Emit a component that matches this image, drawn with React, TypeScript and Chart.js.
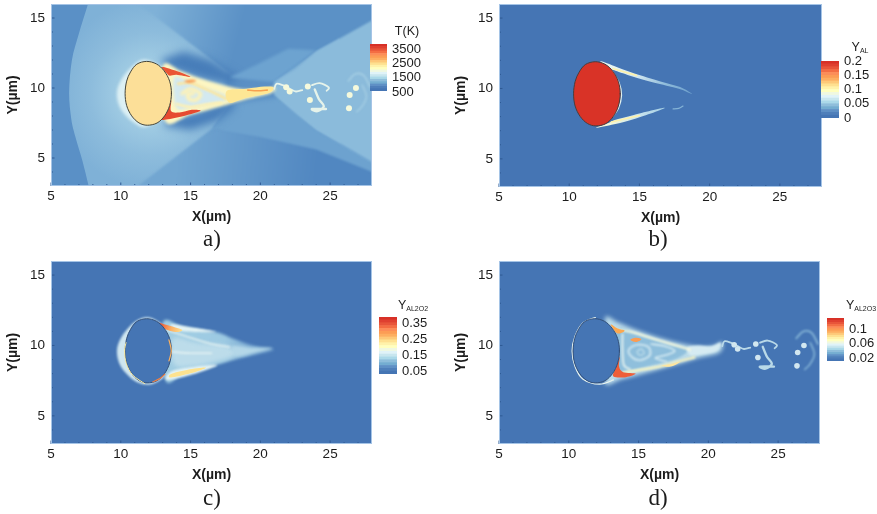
import React, { useEffect, useRef } from "react";
import { Chart, registerables } from "chart.js";

Chart.register(...registerables);

type Pt = [number, number];

// ---------- axis and legend labels ----------
const xMajorTicks = [5, 10, 15, 20, 25];
const yMajorTicks = [5, 10, 15];
const xMinorTicks = [6, 7, 8, 9, 11, 12, 13, 14, 16, 17, 18, 19, 21, 22, 23, 24, 26, 27];
const yMinorTicks = [4, 6, 7, 8, 9, 11, 12, 13, 14];
const tempTicks = [500, 1500, 2500, 3500];
const alTicks = [0, 0.05, 0.1, 0.15, 0.2];
const al2o2Ticks = [0.05, 0.15, 0.25, 0.35];
const al2o3Ticks = [0.02, 0.06, 0.1];
const colorbarLevels = [
  "#4575b4", "#4f7fba", "#5f90c5", "#74add1", "#8fbedb", "#abd9e9", "#c8e6ef", "#e0f3f8", "#f0f8e0", "#ffffbf",
  "#fff2aa", "#fee090", "#fdc878", "#fdae61", "#fc9c55", "#fc8d59", "#f46d43", "#e8553a", "#df4030", "#d73027",
];

// ---------- shared outlines ----------
const particle: Pt[] = [
  [13.63, 9.62], [13.5, 10.49], [13.1, 11.23], [12.55, 11.72], [11.85, 11.9], [11.15, 11.7], [10.7, 11.15], [10.42, 10.49],
  [10.31, 9.62], [10.42, 8.75], [10.78, 8.01], [11.3, 7.51], [11.9, 7.34], [12.6, 7.5], [13.14, 8.01], [13.5, 8.75],
];
const plotBox: Pt[] = [[4.5, 2.5], [28.5, 2.5], [28.5, 16.5], [4.5, 16.5]];
const vortexBlobs: Pt[] = [[23.55, 9.15], [26.4, 9.5], [26.85, 10.0], [26.35, 8.55], [23.4, 10.1], [21.85, 10.05], [22.1, 9.75]];
const vortexChain: Pt[] = [[21.0, 9.95], [21.15, 10.3], [21.6, 10.2], [22.1, 9.95], [22.55, 9.75], [23.0, 9.85]];
const vortexCurlA: Pt[] = [[23.7, 10.2], [24.25, 10.35], [24.9, 10.05], [24.75, 9.8]];
const vortexCurlB: Pt[] = [[23.9, 9.9], [24.2, 9.2], [24.55, 8.7], [24.1, 8.35], [23.7, 8.5], [24.7, 8.5]];
const vortexArcA: Pt[] = [[26.3, 10.5], [26.8, 11.0], [27.4, 10.9], [27.85, 10.1]];
const vortexArcB: Pt[] = [[27.3, 10.2], [27.6, 9.4], [27.3, 8.7], [26.9, 8.3]];

// ---------- panel a: temperature ----------
const tBowShock: Pt[] = [[8.2, 18], [7.65, 16], [7.0, 13.9], [6.5, 12], [6.3, 9.7], [6.45, 7.8], [6.75, 6.5], [7.25, 4.8], [7.7, 3], [8.2, 1], [24, 1], [24, 18]];
const tUpperFan: Pt[] = [[10.9, 16.3], [28.5, 16.3], [28.5, 15], [24, 12.6], [21, 10.5], [18, 10.9]];
const tNeckFill: Pt[] = [[17.5, 11.1], [21.2, 10.7], [21.2, 9.3], [17.5, 8.8]];
const tUpperShadow: Pt[] = [[12.8, 12], [14.5, 12.6], [16.5, 12], [18.3, 10.9], [18, 10.2], [15.5, 10.7], [13.5, 11.4]];
const tLowerFan: Pt[] = [[10.85, 2.7], [28.5, 2.7], [28.5, 4.5], [24, 7], [21, 9.5], [18, 9], [16.55, 7.1]];
const tLowerBand: Pt[] = [[16.55, 7.1], [20, 6.5], [24, 5.6], [28.5, 3.8], [28.5, 4.5], [24, 7], [21, 9.5], [18, 9]];
const tLowerShadow: Pt[] = [[13, 7.3], [15, 7], [17, 7.7], [18.2, 8.6], [18, 9.2], [15.5, 8.3], [13.5, 7.8]];
const tWakeFan: Pt[] = [[21, 10.45], [22.5, 11.3], [24, 12.6], [28.5, 15.1], [28.5, 4.4], [24, 7], [22.5, 8.2], [21, 9.5], [20.9, 10]];
const tNeckBand: Pt[] = [[17.8, 10.75], [19.8, 11.7], [22, 12.8], [24, 12.7], [21, 10.45]];
const tHalo: Pt[] = [[11.8, 12.02], [10.9, 11.6], [10.05, 10.6], [9.72, 9.6], [10, 8.5], [10.9, 7.55], [11.8, 7.22], [13, 8], [13.3, 9.6], [13, 11.3]];
const tWakeCone: Pt[] = [[13, 11.55], [14.3, 11.2], [15.5, 10.75], [17, 10.3], [18.5, 9.95], [20, 9.9], [21, 10.05], [20.8, 9.65], [19, 9.2], [17.2, 8.7], [15, 8.1], [13.2, 7.6]];
const tWakeCore: Pt[] = [[13.85, 10.8], [14.7, 10.55], [15.8, 10.05], [17, 9.7], [17.7, 9.25], [16.5, 8.85], [15, 8.6], [14.1, 8.5], [13.8, 9.4]];
const tSwirl: Pt[] = [[14.4, 9.6], [15, 9.95], [15.7, 9.6], [15.4, 9.15], [14.9, 9.2], [14.8, 9.55], [15.2, 9.6]];
const tStreakA: Pt[] = [[14.1, 10.3], [15, 10.35], [16, 9.95], [17, 9.5], [17.6, 9.2]];
const tStreakB: Pt[] = [[14, 8.85], [15, 8.65], [16, 8.8], [17.2, 8.95]];
const tRedTop: Pt[] = [[12.95, 11.5], [13.9, 11.25], [15, 10.8], [14, 10.95], [13.5, 10.88], [13.3, 11.05]];
const tRedBottom: Pt[] = [[13.62, 9.1], [13.6, 8.35], [14.2, 8.25], [15.1, 8.45], [15.7, 8.35], [14.2, 7.92], [13.05, 7.72], [12.95, 7.9], [13.35, 8.4]];
const tHotPatch: Pt[] = [[14.55, 10.5], [15.1, 10.6], [15.4, 10.5], [14.9, 10.35]];
const tHotPatchB: Pt[] = [[17.6, 9.45], [18.2, 9.65], [18.6, 9.5], [18, 9.3]];
const tTail: Pt[] = [[17.6, 9.8], [19, 9.95], [20.3, 10.1], [20.95, 10.05], [20.6, 9.65], [19, 9.3], [17.8, 8.95]];
const tTailStreak: Pt[] = [[19.1, 9.85], [19.8, 9.8], [20.5, 9.85]];

// ---------- panel b: Y_AL ----------
const alTopStreak: Pt[] = [[12.2, 11.95], [13.2, 11.6], [14.6, 11.08], [16.5, 10.5], [17.9, 10.1], [18.75, 9.6], [17.8, 9.98], [16, 10.42], [14.5, 10.85], [13.3, 11.25], [12.9, 11.45]];
const alTopCore: Pt[] = [[13.1, 11.42], [14, 11.15], [14.8, 10.92]];
const alBottomStreak: Pt[] = [[11.9, 7.2], [13.2, 7.45], [14.7, 7.85], [16.8, 8.62], [14.6, 8.12], [13.3, 7.78], [12.8, 7.55]];
const alBottomCore: Pt[] = [[13, 7.62], [14, 7.85], [15, 8.08]];
const alTailBit: Pt[] = [[17.4, 8.55], [17.8, 8.58], [18.1, 8.75]];
const alEdge: Pt[] = [[13, 11.35], [13.55, 10.4], [13.72, 9.5], [13.5, 8.6], [13.05, 7.95]];

// ---------- panel c: Y_AL2O2 ----------
const o2Halo: Pt[] = [[11.8, 12.0], [10.9, 11.6], [10.05, 10.6], [9.72, 9.6], [10.0, 8.5], [10.9, 7.55], [11.8, 7.22], [12.6, 7.4], [13.2, 8], [13.3, 9.6], [13.1, 11.2], [12.5, 11.8]];
const o2Cone: Pt[] = [[13, 11.6], [14.5, 11.3], [16.8, 10.95], [18, 10.5], [19.5, 10], [21, 9.7], [19.5, 9.3], [18, 8.95], [16.8, 8.6], [14.5, 7.95], [13.2, 7.55]];
const o2Patch: Pt[] = [[13.75, 10.5], [15.5, 10.2], [17.6, 9.95], [18.4, 9.4], [17, 8.9], [15, 8.5], [13.8, 8.7]];
const o2TailPatch: Pt[] = [[18, 9.95], [19.5, 9.85], [20.9, 9.8], [19.5, 9.45], [18.3, 9.25]];
const o2TopWhite: Pt[] = [[13.6, 11.5], [15, 11.3], [16.8, 10.98], [15.5, 10.95], [14, 11.1]];
const o2TopHot: Pt[] = [[12.5, 11.65], [13.5, 11.4], [14.4, 11.1], [13.9, 10.95], [13.1, 11.2]];
const o2InnerLine: Pt[] = [[13.3, 11.1], [15, 10.55], [16.5, 10.1], [17.8, 9.9]];
const o2CenterLine: Pt[] = [[13.7, 9.55], [15, 9.45], [16.5, 9.45]];
const o2BottomWhite: Pt[] = [[13.3, 7.55], [15, 7.9], [16.9, 8.6], [15, 8.45], [13.6, 8.15]];
const o2BottomHot: Pt[] = [[13.6, 7.72], [15, 8.02], [16.1, 8.42], [14.8, 8.28], [13.6, 7.98]];
const o2EdgeRight: Pt[] = [[13.45, 10.4], [13.62, 9.6], [13.45, 8.9]];
const o2EdgeLeft: Pt[] = [[10.38, 10.2], [10.27, 9.6], [10.4, 8.7], [10.85, 7.9], [11.7, 7.3]];
const o2EdgeHot: Pt[] = [[12.3, 7.42], [12.8, 7.65], [13.15, 7.95]];

// ---------- panel d: Y_AL2O3 ----------
const o3Ring: Pt[] = [[11.9, 11.98], [11, 11.58], [10.45, 10.65], [10.24, 9.6], [10.45, 8.5], [11, 7.62], [12.2, 7.25], [13.2, 7.55]];
const o3Cone: Pt[] = [[12.6, 11.95], [13.5, 11.65], [15, 11.05], [17, 10.4], [19, 9.95], [20.3, 9.95], [21, 10.25], [20.8, 9.5], [19.2, 9.1], [17.5, 8.6], [15.5, 8.05], [13.8, 7.6], [12.6, 7.3], [13, 9.6]];
const o3Interior: Pt[] = [[13.3, 11.1], [15.2, 10.7], [17, 10.1], [18.5, 9.75], [17.8, 9.1], [16, 8.6], [14.2, 8.2], [13.3, 8.1]];
const o3SwirlRing: Pt[] = [[14.3, 9.7], [14.9, 10.05], [15.7, 9.9], [15.8, 9.3], [15.1, 8.95], [14.5, 9.2]];
const o3SwirlInner: Pt[] = [[14.9, 9.55], [15.2, 9.75], [15.4, 9.45], [15.1, 9.3]];
const o3LobeLine: Pt[] = [[15.9, 10.1], [16.9, 9.95], [17.6, 9.6], [16.9, 9.3], [16.2, 9.1], [17, 8.85]];
const o3TopEdge: Pt[] = [[13.4, 11.15], [14.5, 10.95], [16, 10.5], [17.5, 10.05], [18.7, 9.7]];
const o3BottomEdge: Pt[] = [[13.8, 8.05], [15, 8.25], [16.5, 8.5], [17.8, 8.85], [19, 9.15]];
const o3LeftEdge: Pt[] = [[13.85, 10.8], [13.85, 9.6], [13.95, 8.6], [14.4, 8.3]];
const o3TopHot: Pt[] = [[13, 11.5], [13.5, 11.2], [14, 11.05], [13.6, 10.85], [13.3, 11.0]];
const o3HotPatch: Pt[] = [[14.4, 10.4], [14.8, 10.55], [15.2, 10.45], [14.8, 10.25]];
const o3BottomHot: Pt[] = [[13.65, 9.2], [13.6, 8.5], [13.9, 8.1], [14.8, 8.0], [14.1, 7.75], [13.2, 7.8], [13.35, 8.4]];
const o3YellowPatch: Pt[] = [[16.6, 8.55], [17.4, 8.7], [18, 8.85], [17.3, 8.5]];
const o3Tail: Pt[] = [[18.5, 9.85], [19.3, 10.0], [20.2, 9.95], [20.9, 10.2], [20.6, 9.6], [19.5, 9.35], [18.7, 9.3]];

// ---------- drawing styles (separate from the data) ----------
type Layer = {
  pts: Pt[]; fill?: string; stroke?: string; width?: number; blur?: number; straight?: boolean; open?: boolean; dotR?: number;
  linear?: [Pt, Pt, string[]]; radial?: [Pt, number, string[]];
};

const vortices = (blob: string, line: string, faint: string, r: number): Layer[] => [
  { pts: vortexArcA, stroke: faint, width: 1.6, blur: 0.8, open: true },
  { pts: vortexArcB, stroke: faint, width: 1.4, blur: 0.8, open: true },
  { pts: vortexCurlA, stroke: line, width: 1.8, blur: 0.7, open: true },
  { pts: vortexCurlB, stroke: line, width: 2.4, blur: 0.7, open: true },
  { pts: vortexChain, stroke: line, width: 1.8, blur: 0.6, open: true },
  { pts: vortexBlobs, fill: blob, dotR: r, blur: 0.7 },
];

const particleEdge = "#45453a";
const deepBlue = "#4575b4";

const layersA: Layer[] = [
  { pts: plotBox, fill: "#5a90c6", straight: true },
  { pts: tBowShock, radial: [[12.2, 9.6], 6.8, ["#a2cde4", "#8dbcdc", "#7fb1d7"]], blur: 0.6 },
  { pts: tUpperFan, linear: [[12, 13.5], [18, 12], ["#7fb1d7", "#5b91c6"]], straight: true, blur: 1 },
  { pts: tLowerFan, linear: [[14, 5], [24, 4], ["#72a6d1", "#5187c1"]], straight: true, blur: 0.8 },
  { pts: tLowerBand, fill: "#6da2cf", straight: true, blur: 1.2 },
  { pts: tNeckFill, fill: "#5b90c5", blur: 2, straight: true },
  { pts: tUpperShadow, fill: "#477db9", blur: 4, straight: true },
  { pts: tLowerShadow, fill: "#477db9", blur: 4, straight: true },
  { pts: tNeckBand, fill: "#6da3d0", blur: 1.5, straight: true },
  { pts: tWakeFan, fill: "#8bbbdb", blur: 0.8, straight: true },
  { pts: tHalo, fill: "#dcf0f4", blur: 1.6 },
  { pts: tWakeCone, fill: "#fdf6c2", blur: 1.6 },
  { pts: tWakeCore, fill: "#d3e9f0", blur: 1.6 },
  { pts: tSwirl, stroke: "#fff2b4", width: 3.5, blur: 1.5, open: true },
  { pts: tStreakA, stroke: "#fee79c", width: 2.5, blur: 0.8, open: true },
  { pts: tStreakB, stroke: "#fff0b0", width: 2.5, blur: 0.8, open: true },
  { pts: tRedTop, fill: "#ea5535", blur: 0.6 },
  { pts: tRedBottom, fill: "#e64a30", blur: 0.6 },
  { pts: tHotPatch, fill: "#f8a05a", blur: 0.8 },
  { pts: tHotPatchB, fill: "#f8a05a", blur: 0.8 },
  { pts: tTail, fill: "#fee795", blur: 0.7 },
  { pts: tTailStreak, stroke: "#f8a050", width: 1.6, blur: 0.5, open: true },
  ...vortices("#f5f9dc", "#e6f3ea", "#a6cfe4", 3),
  { pts: particle, fill: "#fcdf98", stroke: particleEdge, width: 1 },
];

const layersB: Layer[] = [
  { pts: plotBox, fill: deepBlue, straight: true },
  { pts: alEdge, stroke: "#dff0ee", width: 1.4, blur: 0.5, open: true },
  { pts: alTopStreak, linear: [[13, 11.3], [18.7, 9.6], ["#e8f4f0", "#cfe5ef", "#8fbcdb", "#6d9fcc"]], blur: 0.6 },
  { pts: alBottomStreak, linear: [[13, 7.6], [16.8, 8.6], ["#f2f8dc", "#c9e4ee", "#a5cfe4"]], blur: 0.6 },
  { pts: alTailBit, stroke: "#84b3d6", width: 1.3, blur: 0.4, open: true },
  { pts: alTopCore, stroke: "#fff2a8", width: 1.5, blur: 0.4, open: true },
  { pts: alBottomCore, stroke: "#fff2a8", width: 1.5, blur: 0.4, open: true },
  { pts: particle, fill: "#d93327", stroke: "#4c3c3c", width: 1 },
];

const layersC: Layer[] = [
  { pts: plotBox, fill: deepBlue, straight: true },
  { pts: o2Halo, fill: "#cfe6f0", blur: 1 },
  { pts: o2Cone, linear: [[14, 10], [21, 10], ["#a0cde3", "#9cc9e2", "#5a8cc2"]], blur: 1.8 },
  { pts: o2Patch, fill: "#bcdcea", blur: 2 },
  { pts: o2TailPatch, fill: "#b4d7e8", blur: 1.5 },
  { pts: o2TopWhite, fill: "#e4f3f4", blur: 1 },
  { pts: o2BottomWhite, fill: "#e4f3f4", blur: 1 },
  { pts: o2InnerLine, stroke: "#e6f3f2", width: 1.5, blur: 0.9, open: true },
  { pts: o2CenterLine, stroke: "#e6f3f2", width: 1.6, blur: 1, open: true },
  { pts: o2BottomHot, fill: "#fde28f", blur: 0.5 },
  { pts: o2TopHot, linear: [[12.8, 11.4], [14.4, 11], ["#ea5535", "#fcb064", "#fee090"]], blur: 0.5 },
  { pts: particle, fill: deepBlue, stroke: "#33507a", width: 1 },
  { pts: o2EdgeRight, stroke: "#fbb05e", width: 1.2, blur: 0.3, open: true },
  { pts: o2EdgeLeft, stroke: "#fdeda0", width: 1, blur: 0.3, open: true },
  { pts: o2EdgeHot, stroke: "#f37f40", width: 1.2, blur: 0.3, open: true },
];

const layersD: Layer[] = [
  { pts: plotBox, fill: deepBlue, straight: true },
  { pts: o3Cone, fill: "#bcdcea", blur: 2 },
  { pts: o3Interior, fill: "#8fbfdc", blur: 1.3 },
  { pts: o3Tail, fill: "#d6ebf2", blur: 0.9 },
  { pts: o3SwirlRing, stroke: "#c9e3ee", width: 2.2, blur: 1 },
  { pts: o3SwirlInner, stroke: "#bcdcea", width: 1.4, blur: 0.9 },
  { pts: o3LobeLine, stroke: "#d9edf3", width: 1.6, blur: 0.8, open: true },
  { pts: o3LeftEdge, stroke: "#e8f4f0", width: 1.8, blur: 0.8, open: true },
  { pts: o3TopEdge, stroke: "#f8f9dc", width: 2, blur: 0.9, open: true },
  { pts: o3BottomEdge, stroke: "#fdf6bf", width: 2.2, blur: 0.9, open: true },
  { pts: o3YellowPatch, fill: "#fee6a0", blur: 0.5 },
  { pts: o3TopHot, fill: "#fca850", blur: 0.5 },
  { pts: o3HotPatch, fill: "#fb9c52", blur: 0.6 },
  { pts: o3BottomHot, fill: "#ee5e38", blur: 0.5 },
  ...vortices("#d2e7f0", "#b9d9e8", "#8fbedc", 2.8),
  { pts: o3Ring, stroke: "#e6f2ee", width: 1.3, blur: 0.4, open: true },
  { pts: particle, fill: deepBlue, stroke: "#33507a", width: 1 },
];

// ---------- plugin: paints dataset points through the chart's scales ----------
function tracePath(ctx: CanvasRenderingContext2D, p: { x: number; y: number }[], straight: boolean, open: boolean) {
  ctx.beginPath();
  ctx.moveTo(p[0].x, p[0].y);
  const n = p.length;
  const at = (i: number) => (open ? p[Math.max(0, Math.min(n - 1, i))] : p[(i + n) % n]);
  const end = open ? n - 1 : n;
  for (let i = 0; i < end; i++) {
    const a = at(i - 1), b = at(i), c = at(i + 1), d = at(i + 2);
    if (straight) ctx.lineTo(c.x, c.y);
    else ctx.bezierCurveTo(b.x + (c.x - a.x) / 6, b.y + (c.y - a.y) / 6, c.x - (d.x - b.x) / 6, c.y - (d.y - b.y) / 6, c.x, c.y);
  }
  if (!open) ctx.closePath();
}

const fieldPlugin = {
  id: "field",
  beforeDatasetsDraw(chart: any) {
    const { ctx, chartArea: area, scales } = chart;
    ctx.save();
    ctx.beginPath();
    ctx.rect(area.left, area.top, area.right - area.left, area.bottom - area.top);
    ctx.clip();
    chart.data.datasets.forEach((ds: any, i: number) => {
      const l: Layer = ds.layer;
      const pts = chart.getDatasetMeta(i).data as { x: number; y: number }[];
      ctx.save();
      ctx.filter = l.blur ? `blur(${l.blur}px)` : "none";
      let paint: any = l.fill;
      if (l.linear) {
        const [a, b, cols] = l.linear;
        paint = ctx.createLinearGradient(scales.x.getPixelForValue(a[0]), scales.y.getPixelForValue(a[1]), scales.x.getPixelForValue(b[0]), scales.y.getPixelForValue(b[1]));
        cols.forEach((c: string, k: number) => paint.addColorStop(k / (cols.length - 1), c));
      }
      if (l.radial) {
        const [c0, r, cols] = l.radial;
        const cx = scales.x.getPixelForValue(c0[0]), cy = scales.y.getPixelForValue(c0[1]);
        const rp = Math.abs(scales.x.getPixelForValue(c0[0] + r) - cx);
        paint = ctx.createRadialGradient(cx, cy, rp * 0.3, cx, cy, rp);
        cols.forEach((c: string, k: number) => paint.addColorStop(k / (cols.length - 1), c));
      }
      if (l.dotR) {
        ctx.fillStyle = paint;
        pts.forEach((p) => { ctx.beginPath(); ctx.arc(p.x, p.y, l.dotR as number, 0, Math.PI * 2); ctx.fill(); });
      } else {
        tracePath(ctx, pts, !!l.straight, !!l.open);
        if (paint) { ctx.fillStyle = paint; ctx.fill(); }
        if (l.stroke) { ctx.strokeStyle = l.stroke; ctx.lineWidth = l.width || 1; ctx.lineCap = "round"; ctx.lineJoin = "round"; ctx.stroke(); }
      }
      ctx.restore();
    });
    ctx.restore();
  },
  afterDatasetsDraw(chart: any) {
    const { ctx, chartArea: a, scales } = chart;
    ctx.save();
    ctx.strokeStyle = "#2f5a94";
    ctx.lineWidth = 1;
    const tick = (v: number, len: number, axis: "x" | "y") => {
      ctx.beginPath();
      if (axis === "x") { const px = scales.x.getPixelForValue(v); ctx.moveTo(px, a.bottom); ctx.lineTo(px, a.bottom - len); }
      else { const py = scales.y.getPixelForValue(v); ctx.moveTo(a.left, py); ctx.lineTo(a.left + len, py); }
      ctx.stroke();
    };
    xMajorTicks.forEach((v) => tick(v, 3.5, "x"));
    xMinorTicks.forEach((v) => tick(v, 2, "x"));
    yMajorTicks.forEach((v) => tick(v, 3.5, "y"));
    yMinorTicks.forEach((v) => tick(v, 2, "y"));
    ctx.strokeStyle = "#a5c4e6";
    ctx.strokeRect(a.left + 0.5, a.top + 0.5, a.right - a.left - 1, a.bottom - a.top - 1);
    ctx.restore();
  },
};

const fontFamily = "'Liberation Sans', Arial, sans-serif";
const inkColor = "#1c1c1c";
const GUTTER_LEFT = 46, GUTTER_BOTTOM = 42, PAD_TOP = 4, PAD_RIGHT = 8;

const noOverhang = (s: any) => { s.paddingTop = 0; s.paddingBottom = 0; s.paddingLeft = 0; s.paddingRight = 0; };

function FieldChart({ left, top, w, h, layers }: { left: number; top: number; w: number; h: number; layers: Layer[] }) {
  const ref = useRef<HTMLCanvasElement>(null);
  useEffect(() => {
    const chart = new Chart(ref.current as HTMLCanvasElement, {
      type: "scatter",
      data: {
        datasets: layers.map((l) => ({
          data: l.pts.map(([x, y]) => ({ x, y })), showLine: false, pointRadius: 0, pointHoverRadius: 0, layer: l,
        })) as any,
      },
      options: {
        animation: false, responsive: false, events: [],
        layout: { padding: { top: PAD_TOP, right: PAD_RIGHT, left: 0, bottom: 0 } },
        plugins: { legend: { display: false }, tooltip: { enabled: false } },
        scales: {
          x: {
            type: "linear", min: 5, max: 28,
            afterFit: (s: any) => { s.height = GUTTER_BOTTOM; noOverhang(s); },
            afterBuildTicks: (s: any) => { s.ticks = xMajorTicks.map((value) => ({ value })); },
            grid: { display: false, drawTicks: false }, border: { display: false },
            ticks: { color: inkColor, font: { family: fontFamily, size: 13.5 }, padding: 2, maxRotation: 0, autoSkip: false },
            title: { display: true, text: "X(\u00b5m)", color: inkColor, font: { family: fontFamily, size: 14, weight: "bold" }, padding: { top: 0, bottom: 2 } },
          },
          y: {
            type: "linear", min: 3, max: 16,
            afterFit: (s: any) => { s.width = GUTTER_LEFT; noOverhang(s); },
            afterBuildTicks: (s: any) => { s.ticks = yMajorTicks.map((value) => ({ value })); },
            grid: { display: false, drawTicks: false }, border: { display: false },
            ticks: { color: inkColor, font: { family: fontFamily, size: 13.5 }, padding: 6, autoSkip: false },
            title: { display: true, text: "Y(\u00b5m)", color: inkColor, font: { family: fontFamily, size: 14, weight: "bold" }, padding: 0 },
          },
        },
      } as any,
      plugins: [fieldPlugin],
    });
    return () => chart.destroy();
  }, [layers]);
  return (
    <canvas ref={ref} width={w + GUTTER_LEFT + PAD_RIGHT} height={h + GUTTER_BOTTOM + PAD_TOP}
      style={{ position: "absolute", left: left - GUTTER_LEFT, top: top - PAD_TOP, filter: "blur(0.45px)" }} />
  );
}

function Colorbar({ left, top, w, h, min, max, ticks }: { left: number; top: number; w: number; h: number; min: number; max: number; ticks: number[] }) {
  const ref = useRef<HTMLCanvasElement>(null);
  useEffect(() => {
    const step = (max - min) / colorbarLevels.length;
    const chart = new Chart(ref.current as HTMLCanvasElement, {
      type: "bar",
      data: {
        labels: [""],
        datasets: colorbarLevels.map((c, i) => ({
          data: [[min + i * step, min + (i + 1) * step]], backgroundColor: c, borderWidth: 0, barPercentage: 1, categoryPercentage: 1, grouped: false,
        })) as any,
      },
      options: {
        animation: false, responsive: false, events: [],
        layout: { padding: { top: 8, bottom: 8, left: 0, right: 0 } },
        plugins: { legend: { display: false }, tooltip: { enabled: false } },
        scales: {
          x: { display: false, afterFit: noOverhang },
          y: {
            position: "right", min, max,
            afterFit: (s: any) => { s.width = 40; noOverhang(s); },
            afterBuildTicks: (s: any) => { s.ticks = ticks.map((value) => ({ value })); },
            grid: { display: false, drawTicks: false }, border: { display: false },
            ticks: { color: inkColor, font: { family: fontFamily, size: 13 }, padding: 5, autoSkip: false, callback: (v: any) => String(v) },
          },
        },
      } as any,
    });
    return () => chart.destroy();
  }, [min, max, ticks]);
  return <canvas ref={ref} width={w + 40} height={h + 16} style={{ position: "absolute", left, top: top - 8, filter: "blur(0.45px)" }} />;
}

const label = (x: number, y: number): React.CSSProperties => ({
  position: "absolute", left: x, top: y, transform: "translate(-50%,-50%)", font: `12.5px ${fontFamily}`, color: inkColor, whiteSpace: "nowrap", filter: "blur(0.3px)",
});
const caption = (x: number, y: number): React.CSSProperties => ({
  position: "absolute", left: x, top: y, transform: "translate(-50%,-50%)", font: `23px 'Liberation Serif', serif`, color: inkColor, whiteSpace: "nowrap", filter: "blur(0.3px)",
});
const sub: React.CSSProperties = { fontSize: 7, verticalAlign: -2, lineHeight: 0 };

export default function App() {
  return (
    <div style={{ position: "absolute", left: 0, top: 0, width: 877, height: 514, overflow: "hidden", background: "#fff" }}>
      <FieldChart left={51} top={4} w={321} h={182} layers={layersA} />
      <FieldChart left={499} top={4} w={323} h={183} layers={layersB} />
      <FieldChart left={51} top={261} w={321} h={183} layers={layersC} />
      <FieldChart left={499} top={261} w={321} h={183} layers={layersD} />

      <Colorbar left={370} top={44} w={17} h={47} min={570} max={3880} ticks={tempTicks} />
      <Colorbar left={821} top={61} w={18} h={57} min={0} max={0.2} ticks={alTicks} />
      <Colorbar left={379} top={317} w={18} h={57} min={0.037} max={0.39} ticks={al2o2Ticks} />
      <Colorbar left={827} top={318} w={17} h={43} min={0.0115} max={0.133} ticks={al2o3Ticks} />

      <div style={label(407, 31)}>T(K)</div>
      <div style={label(860, 47)}>Y<sub style={sub}>AL</sub></div>
      <div style={label(413, 305)}>Y<sub style={sub}>AL2O2</sub></div>
      <div style={label(861, 305)}>Y<sub style={sub}>AL2O3</sub></div>

      <div style={caption(212, 239)}>a)</div>
      <div style={caption(658, 239)}>b)</div>
      <div style={caption(212, 498)}>c)</div>
      <div style={caption(658, 498)}>d)</div>
    </div>
  );
}
